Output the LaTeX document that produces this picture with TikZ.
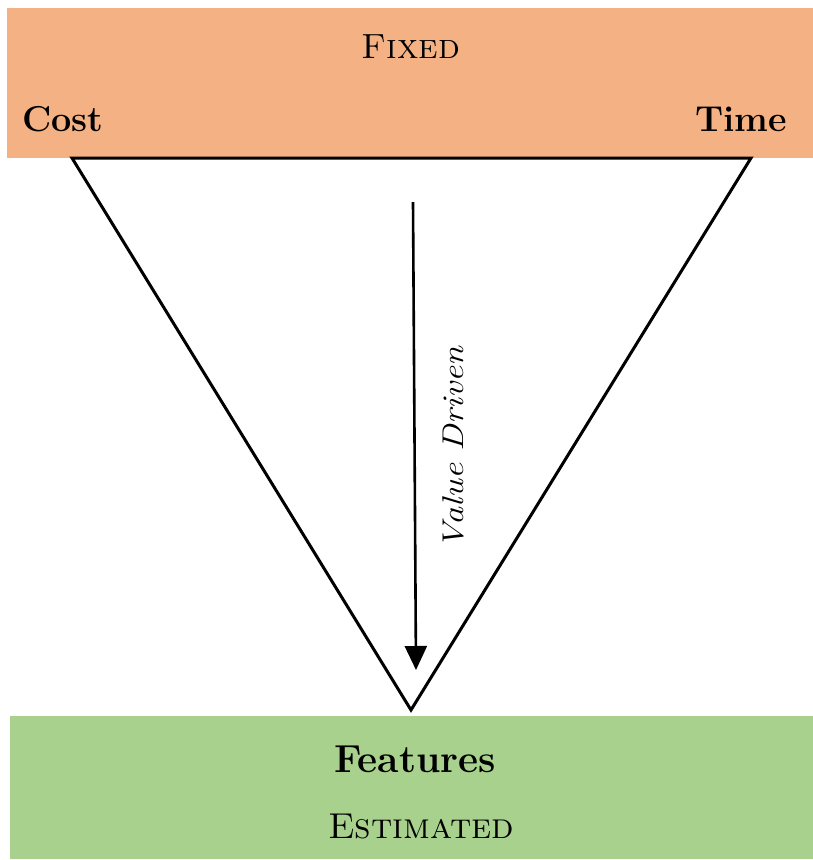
\documentclass[tikz,border=0pt]{standalone}
\usetikzlibrary{arrows.meta}
\definecolor{topfill}{HTML}{F4B183}
\definecolor{botfill}{HTML}{A9D18E}
\begin{document}
\begin{tikzpicture}[x=1pt,y=-1pt,
  bar/.style={draw=none,inner sep=0pt,anchor=north west},
  lbl/.style={inner sep=0pt,text=black},
  edge/.style={line width=3pt,line join=miter},
  arr/.style={line width=2.6pt,-{Triangle[length=24pt,width=22pt]}}]
\useasboundingbox (0,0) rectangle (813,860);
\fill[white] (0,0) rectangle (813,860);
\node[bar,fill=topfill,minimum width=806pt,minimum height=150pt] (top) at (7,8) {};
\node[bar,fill=botfill,minimum width=803pt,minimum height=143pt] (bot) at (10,716) {};
\coordinate (tl) at (72,158);
\coordinate (tr) at (751,158);
\coordinate (apex) at (411,710);
\draw[edge] (tl) -- (apex) -- (tr) -- cycle;
\coordinate (as) at (413,202);
\coordinate (ae) at (416,670);
\draw[arr] (as) -- (ae);
\node[lbl,font=\fontsize{35}{40}\selectfont,anchor=base] (fixed) at (411,58) {\textsc{Fixed}};
\node[lbl,font=\fontsize{36}{42}\bfseries\selectfont,anchor=base west] (cost) at (22,131) {Cost};
\node[lbl,font=\fontsize{36}{42}\bfseries\selectfont,anchor=base east] (time) at (787,131) {Time};
\node[lbl,font=\fontsize{39}{46}\bfseries\selectfont,anchor=base] (feat) at (415,772) {Features};
\node[lbl,font=\fontsize{36}{42}\selectfont,anchor=base] (est) at (421,838) {\textsc{Estimated}};
\node[lbl,font=\fontsize{30}{36}\itshape\selectfont,rotate=90,anchor=base] (vd) at (463,448) {\scalebox{1.2}[1]{Value Driven}};
\end{tikzpicture}
\end{document}
